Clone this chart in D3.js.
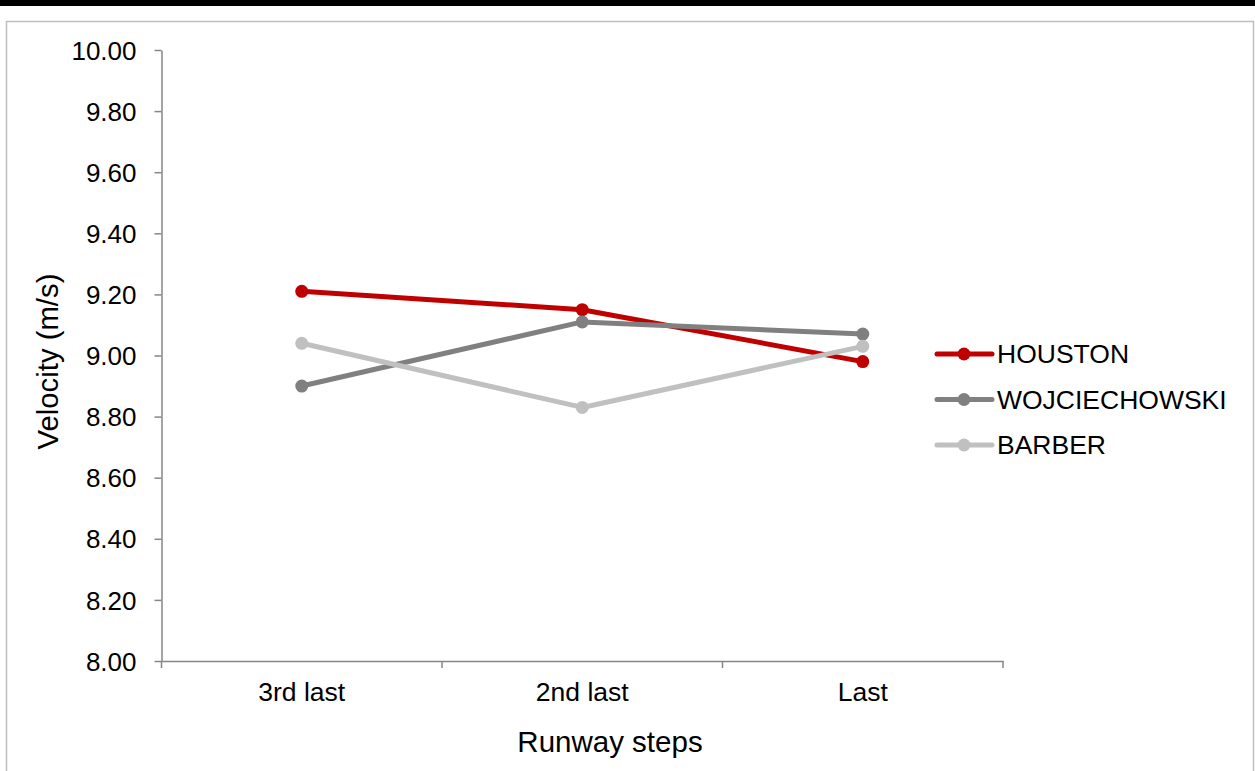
<!DOCTYPE html>
<html>
<head>
<meta charset="utf-8">
<script src="https://cdn.jsdelivr.net/npm/d3@7"></script>
<style>
  html, body { margin: 0; padding: 0; background: #fff; }
  svg { display: block; font-family: "Liberation Sans", Arial, sans-serif; }
</style>
</head>
<body>
<svg id="chart" width="1255" height="771"></svg>
<script>
// Step categories along the runway
const steps = ["3rd last", "2nd last", "Last"];

// Horizontal velocity (m/s) per athlete
const houston = [9.21, 9.15, 8.98];
const wojciechowski = [8.90, 9.11, 9.07];
const barber = [9.04, 8.83, 9.03];

const seriesNames = ["HOUSTON", "WOJCIECHOWSKI", "BARBER"];
const seriesColors = ["#C00000", "#808080", "#C0C0C0"];

const yTicks = [8.0, 8.2, 8.4, 8.6, 8.8, 9.0, 9.2, 9.4, 9.6, 9.8, 10.0];

const series = [
  { name: seriesNames[0], values: houston, color: seriesColors[0] },
  { name: seriesNames[1], values: wojciechowski, color: seriesColors[1] },
  { name: seriesNames[2], values: barber, color: seriesColors[2] }
];

const svg = d3.select("#chart");
const W = 1255, H = 771;

// Heavy rule across the top and the light frame around the chart
svg.append("rect").attr("x", 0).attr("y", 0).attr("width", W).attr("height", 6).attr("fill", "#000");
svg.append("rect")
  .attr("x", 6.5).attr("y", 21.5).attr("width", 1247).attr("height", 800)
  .attr("fill", "none").attr("stroke", "#BFBFBF").attr("stroke-width", 1.5);

const plot = { left: 161.5, right: 1003, top: 50, bottom: 661 };

const x = d3.scaleBand().domain(steps).range([plot.left, plot.right]).padding(0);
const y = d3.scaleLinear().domain([8, 10]).range([plot.bottom, plot.top]);

const axisColor = "#868686";

// Y axis
const yAxis = svg.append("g")
  .attr("transform", `translate(${plot.left},0)`)
  .call(d3.axisLeft(y).tickValues(yTicks).tickFormat(d3.format(".2f")).tickSize(7).tickSizeOuter(0));
yAxis.select(".domain").attr("stroke", axisColor).attr("stroke-width", 1.5);
yAxis.selectAll(".tick line").attr("stroke", axisColor).attr("stroke-width", 1.5);
yAxis.selectAll(".tick text")
  .attr("x", -25).attr("fill", "#000")
  .style("font-size", "26px").attr("dy", "0.35em");

// X axis with ticks at category boundaries
const xAxis = svg.append("g")
  .attr("transform", `translate(0,${plot.bottom})`)
  .call(d3.axisBottom(x).tickSize(0).tickSizeOuter(0));
xAxis.select(".domain").attr("stroke", axisColor).attr("stroke-width", 1.5);
xAxis.selectAll(".tick text")
  .attr("y", 40).attr("dy", 0).attr("fill", "#000")
  .style("font-size", "26.5px");
const bounds = steps.map(s => x(s)).concat([x(steps[steps.length - 1]) + x.bandwidth()]);
xAxis.selectAll(".bound")
  .data(bounds)
  .join("line")
  .attr("class", "bound")
  .attr("x1", d => d).attr("x2", d => d)
  .attr("y1", 0).attr("y2", 7)
  .attr("stroke", axisColor).attr("stroke-width", 1.5);

// Axis titles
svg.append("text")
  .attr("x", 610).attr("y", 752)
  .attr("text-anchor", "middle")
  .style("font-size", "29.5px")
  .text("Runway steps");
svg.append("text")
  .attr("transform", `translate(58,${(273 + 450) / 2}) rotate(-90)`)
  .attr("text-anchor", "middle")
  .style("font-size", "29.3px")
  .text("Velocity (m/s)");

// Lines and markers
const cx = s => x(s) + x.bandwidth() / 2;
const line = d3.line().x((d, i) => cx(steps[i])).y(d => y(d));

const g = svg.append("g");
series.forEach(s => {
  g.append("path")
    .attr("d", line(s.values))
    .attr("fill", "none")
    .attr("stroke", s.color)
    .attr("stroke-width", 5)
    .attr("stroke-linejoin", "round");
  g.selectAll(null)
    .data(s.values)
    .join("circle")
    .attr("cx", (d, i) => cx(steps[i]))
    .attr("cy", d => y(d))
    .attr("r", 6.5)
    .attr("fill", s.color);
});

// Legend
const legend = svg.append("g");
series.forEach((s, i) => {
  const ly = 354 + i * 45.5;
  legend.append("line")
    .attr("x1", 937).attr("x2", 992).attr("y1", ly).attr("y2", ly)
    .attr("stroke", s.color).attr("stroke-width", 5).attr("stroke-linecap", "round");
  legend.append("circle").attr("cx", 964).attr("cy", ly).attr("r", 6.5).attr("fill", s.color);
  legend.append("text")
    .attr("x", 997).attr("y", ly).attr("dy", "0.35em")
    .style("font-size", "26.5px")
    .text(s.name);
});
</script>
</body>
</html>
